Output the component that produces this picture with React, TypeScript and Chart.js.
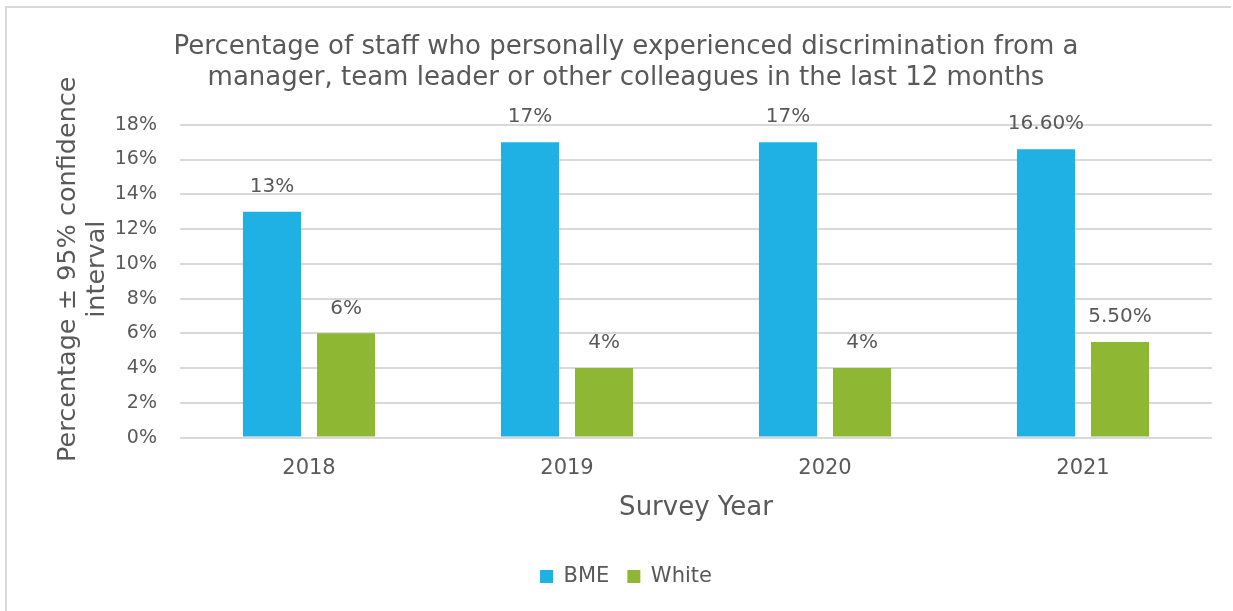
import React, { useEffect, useRef } from "react";
import { Chart, registerables } from "chart.js";

Chart.register(...registerables);

const categories = ["2018", "2019", "2020", "2021"];
const bmeValues = [13, 17, 17, 16.6];
const whiteValues = [6, 4, 4, 5.5];
const bmeLabels = ["13%", "17%", "17%", "16.60%"];
const whiteLabels = ["6%", "4%", "4%", "5.50%"];
const titleLines = [
  "Percentage of staff who personally experienced discrimination from a",
  "manager, team leader or other colleagues in the last 12 months",
];
const yTitleLines = ["Percentage ± 95% confidence", "interval"];
const xTitle = "Survey Year";

const FONT = "'DejaVu Sans', sans-serif";
const TEXT = "#595959";

const dataLabelPlugin = {
  id: "dataLabels",
  afterDatasetsDraw(chart: any) {
    const ctx = chart.ctx;
    ctx.save();
    ctx.font = `20px ${FONT}`;
    ctx.fillStyle = TEXT;
    ctx.textAlign = "center";
    ctx.textBaseline = "middle";
    chart.data.datasets.forEach((ds: any, i: number) => {
      const meta = chart.getDatasetMeta(i);
      meta.data.forEach((bar: any, j: number) => {
        ctx.fillText(ds.labelsText[j], bar.x, bar.y - 25);
      });
    });
    ctx.restore();
  },
};

const yTitlePlugin = {
  id: "yTitle",
  afterDraw(chart: any) {
    const ctx = chart.ctx;
    const area = chart.chartArea;
    const cy = (area.top + area.bottom) / 2 - 12;
    ctx.save();
    ctx.font = `25.5px ${FONT}`;
    ctx.fillStyle = TEXT;
    ctx.textAlign = "center";
    ctx.textBaseline = "middle";
    const xs = [68, 97];
    yTitleLines.forEach((line, i) => {
      ctx.save();
      ctx.translate(xs[i], cy);
      ctx.rotate(-Math.PI / 2);
      ctx.fillText(line, 0, 0);
      ctx.restore();
    });
    ctx.restore();
  },
};

export default function App() {
  const ref = useRef<HTMLCanvasElement>(null);
  useEffect(() => {
    document.body.style.margin = "0";
    document.body.style.overflow = "hidden";
    const chart = new Chart(ref.current!, {
      type: "bar",
      data: {
        labels: categories,
        datasets: [
          {
            label: "BME",
            data: bmeValues,
            backgroundColor: "#1FB0E4",
            labelsText: bmeLabels,
            categoryPercentage: 0.574,
            barPercentage: 0.784,
          } as any,
          {
            label: "White",
            data: whiteValues,
            backgroundColor: "#8EB833",
            labelsText: whiteLabels,
            categoryPercentage: 0.574,
            barPercentage: 0.784,
          } as any,
        ],
      },
      options: {
        animation: false,
        responsive: true,
        maintainAspectRatio: false,
        layout: { padding: { left: 40, right: 21, top: 0, bottom: 14 } },
        plugins: {
          title: {
            display: true,
            text: titleLines,
            color: TEXT,
            font: { family: FONT, size: 26, weight: "normal", lineHeight: 1.2 },
            padding: { top: 31.4, bottom: 31 },
          },
          legend: {
            position: "bottom",
            labels: {
              color: TEXT,
              font: { family: FONT, size: 21 },
              boxWidth: 13,
              boxHeight: 13,
              padding: 18,
            },
          },
          tooltip: { enabled: false },
        },
        scales: {
          x: {
            grid: { display: false },
            border: { display: false },
            ticks: { color: TEXT, font: { family: FONT, size: 21 }, padding: 10 },
            title: {
              display: true,
              text: xTitle,
              color: TEXT,
              font: { family: FONT, size: 26 },
              padding: { top: 2, bottom: 24 },
            },
          },
          y: {
            min: 0,
            max: 18,
            afterFit: (scale: any) => {
              scale.width = 140;
            },
            ticks: {
              stepSize: 2,
              color: TEXT,
              font: { family: FONT, size: 19 },
              padding: 23,
              callback: (v: any) => v + "%",
            },
            grid: { color: "#d9d9d9", lineWidth: 2, drawTicks: false },
            border: { display: false },
          },
        },
      },
      plugins: [dataLabelPlugin, yTitlePlugin],
    });
    return () => chart.destroy();
  }, []);
  return (
    <div style={{ position: "fixed", left: 0, top: 0, width: 1233, height: 611, background: "#fff" }}>
      <div
        style={{
          position: "absolute",
          left: 5,
          top: 6,
          right: 2,
          bottom: 0,
          borderLeft: "2px solid #d9d9d9",
          borderTop: "2px solid #d9d9d9",
        }}
      />
      <canvas ref={ref} style={{ position: "absolute", left: 0, top: 0, width: 1233, height: 611 }} />
    </div>
  );
}
